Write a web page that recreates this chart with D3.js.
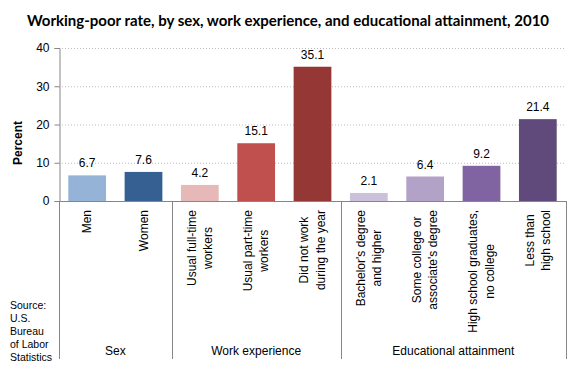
<!DOCTYPE html>
<html><head><meta charset="utf-8">
<script src="https://cdn.jsdelivr.net/npm/d3@7"></script>
<style>
html,body{margin:0;padding:0;background:#fff;}
svg{display:block;}
</style></head>
<body>
<script>
const title = "Working-poor rate, by sex, work experience, and educational attainment, 2010";
const categories = [
  ["Men"], ["Women"],
  ["Usual full-time","workers"], ["Usual part-time","workers"], ["Did not work","during the year"],
  ["Bachelor's degree","and higher"], ["Some college or","associate's degree"],
  ["High school graduates,","no college"], ["Less than","high school"]
];
const values = [6.7, 7.6, 4.2, 15.1, 35.1, 2.1, 6.4, 9.2, 21.4];
const groups = ["Sex", "Work experience", "Educational attainment"];
const groupSizes = [2, 3, 4];
const yTicks = [0, 10, 20, 30, 40];
const sourceLines = ["Source:", "U.S.", "Bureau", "of Labor", "Statistics"];
const palette = ["#95B3D7","#376092","#E6B9B8","#C0504D","#953735","#CCC1DA","#B3A2C7","#8064A2","#604A7B"];

const W = 580, H = 380;
const pLeft = 59, pRight = 566, pTop = 48, pBottom = 201, divBottom = 359;
const labelFont = "'Liberation Sans', Arial, sans-serif";

const svg = d3.select("body").append("svg").attr("width", W).attr("height", H);

svg.append("text").attr("x", 288).attr("y", 26).attr("text-anchor", "middle")
  .attr("font-family", "Lato, 'Open Sans', sans-serif").attr("font-weight", "bold")
  .attr("font-size", 15).attr("fill", "#000").text(title);

const idx = values.map((v, i) => i);
const x = d3.scaleBand().domain(idx).range([pLeft, pRight]).paddingInner(0.33).paddingOuter(0.165);
const y = d3.scaleLinear().domain([0, 40]).range([pBottom, pTop]);

// gridlines
svg.append("g").selectAll("line").data(yTicks.filter(t => t > 0)).join("line")
  .attr("x1", pLeft).attr("x2", pRight).attr("y1", d => y(d) + 0.5).attr("y2", d => y(d) + 0.5)
  .attr("stroke", "#bdbdbd").attr("stroke-dasharray", "1,2");

// y axis
const yAxis = d3.axisLeft(y).tickValues(yTicks).tickSize(5).tickPadding(5);
const ga = svg.append("g").attr("transform", `translate(${pLeft + 0.5},0)`).call(yAxis);
ga.select(".domain").attr("stroke", "#868686");
ga.selectAll(".tick line").attr("stroke", "#868686");
ga.selectAll(".tick text").attr("font-family", labelFont).attr("font-size", 12).attr("fill", "#000");

// bars
svg.append("g").selectAll("rect").data(idx).join("rect")
  .attr("x", i => x(i)).attr("width", x.bandwidth())
  .attr("y", i => y(values[i])).attr("height", i => y(0) - y(values[i]))
  .attr("fill", i => palette[i]);

// value labels
svg.append("g").selectAll("text").data(idx).join("text")
  .attr("x", i => x(i) + x.bandwidth() / 2).attr("y", i => y(values[i]) - 8)
  .attr("text-anchor", "middle").attr("font-family", labelFont).attr("font-size", 12)
  .attr("fill", "#000").text(i => values[i].toFixed(1));

// x axis line
svg.append("line").attr("x1", pLeft).attr("x2", pRight + 0.5).attr("y1", pBottom + 0.5).attr("y2", pBottom + 0.5)
  .attr("stroke", "#868686");

// group dividers
const bounds = [0];
groupSizes.forEach(s => bounds.push(bounds[bounds.length - 1] + s));
const step = x.step();
const bx = k => k === 0 ? pLeft : (k === values.length ? pRight : x(k) - x.paddingInner() * step / 2);
svg.append("g").selectAll("line").data(bounds).join("line")
  .attr("x1", k => Math.round(bx(k)) + 0.5).attr("x2", k => Math.round(bx(k)) + 0.5)
  .attr("y1", pBottom).attr("y2", divBottom).attr("stroke", "#868686");

// group labels
svg.append("g").selectAll("text").data(groups).join("text")
  .attr("x", (g, j) => (bx(bounds[j]) + bx(bounds[j + 1])) / 2).attr("y", 355)
  .attr("text-anchor", "middle").attr("font-family", labelFont).attr("font-size", 12)
  .attr("fill", "#000").text(g => g);

// category labels (rotated)
const lineH = 16.5;
idx.forEach(i => {
  const lines = categories[i];
  const cx = x(i) + x.bandwidth() / 2;
  const g = svg.append("g");
  const ts = lines.map((l, k) => g.append("text").attr("font-family", labelFont).attr("font-size", 12)
    .attr("fill", "#000").attr("text-anchor", "middle").text(l));
  const maxW = d3.max(ts, t => t.node().getComputedTextLength());
  const cy = 210 + maxW / 2;
  const n = lines.length;
  ts.forEach((t, k) => {
    const lx = cx + (k - (n - 1) / 2) * lineH + 4;
    t.attr("transform", `translate(${lx},${cy}) rotate(-90)`);
  });
});

// y label
svg.append("text").attr("transform", `translate(22,143) rotate(-90)`).attr("text-anchor", "middle")
  .attr("font-family", labelFont).attr("font-weight", "bold").attr("font-size", 12)
  .attr("fill", "#000").text("Percent");

// source
svg.append("g").selectAll("text").data(sourceLines).join("text")
  .attr("x", 10).attr("y", (d, k) => 309 + k * 13)
  .attr("font-family", labelFont).attr("font-size", 10.5).attr("fill", "#000").text(d => d);
</script>
</body></html>
